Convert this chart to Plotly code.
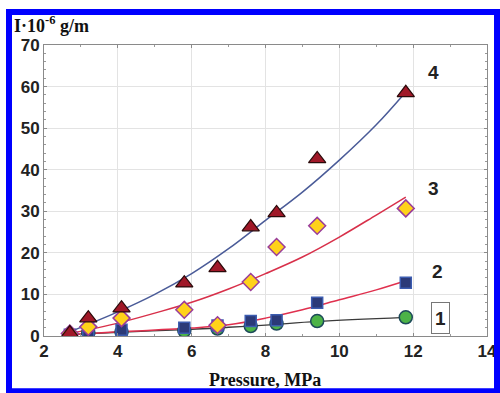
import plotly.graph_objects as go

# Measured points
pressure = [2.7, 3.2, 4.1, 5.8, 6.7, 7.6, 8.3, 9.4, 11.8]
s1 = [0.3, 0.8, 1.0, 1.3, 1.8, 2.4, 3.0, 3.6, 4.5]
s2 = [0.3, 1.0, 1.5, 2.0, 2.5, 3.6, 3.8, 8.0, 12.8]
s3 = [0.6, 2.2, 4.3, 6.3, 2.6, 13.0, 21.4, 26.5, 30.7]
s4 = [0.7, 4.3, 6.7, 12.7, 16.4, 26.2, 29.6, 42.6, 58.5]

# Fitted curves
c1_x = [2.7, 4.0, 6.0, 7.0, 8.0, 9.4, 11.8]
c1_y = [0.3, 0.9, 1.6, 2.1, 2.6, 3.5, 4.5]
c2_x = [2.7, 4.0, 6.0, 7.0, 8.0, 9.0, 10.0, 11.0, 11.8]
c2_y = [0.3, 1.0, 1.9, 2.7, 4.3, 6.3, 8.7, 11.1, 13.3]
c3_x = [2.7, 4.0, 5.0, 6.0, 7.0, 8.0, 9.0, 10.0, 11.0, 11.8]
c3_y = [0.6, 3.1, 5.5, 8.1, 11.3, 15.0, 19.0, 23.8, 29.1, 33.4]
c4_x = [2.7, 4.0, 5.0, 6.0, 7.0, 8.0, 9.0, 10.0, 11.0, 11.8]
c4_y = [1.0, 5.8, 10.0, 15.0, 21.0, 27.8, 34.6, 42.3, 50.8, 58.7]

curve_labels = ["1", "2", "3", "4"]
label_x = [12.75, 12.65, 12.55, 12.55]
label_y = [4.4, 15.6, 35.6, 63.5]

fig = go.Figure()

fig.add_trace(go.Scatter(x=c1_x, y=c1_y, mode="lines", line=dict(color="#3a3a3a", width=1.3, shape="spline")))
fig.add_trace(go.Scatter(x=c2_x, y=c2_y, mode="lines", line=dict(color="#e0304e", width=1.5, shape="spline")))
fig.add_trace(go.Scatter(x=c3_x, y=c3_y, mode="lines", line=dict(color="#d8304a", width=1.5, shape="spline")))
fig.add_trace(go.Scatter(x=c4_x, y=c4_y, mode="lines", line=dict(color="#4a5b98", width=1.5, shape="spline")))

fig.add_trace(go.Scatter(x=pressure, y=s1, mode="markers",
                         marker=dict(symbol="circle", size=13, color="#4cb347",
                                     line=dict(color="#1d4a5a", width=1.5))))
fig.add_trace(go.Scatter(x=pressure, y=s2, mode="markers",
                         marker=dict(symbol="square", size=11, color="#2b3a78",
                                     line=dict(color="#3c5cb0", width=1.5))))
fig.add_trace(go.Scatter(x=pressure, y=s3, mode="markers",
                         marker=dict(symbol="diamond", size=13, color="#ffd21a",
                                     line=dict(color="#9a3c9a", width=1.5))))
fig.add_trace(go.Scatter(x=pressure, y=s4, mode="markers",
                         marker=dict(symbol="triangle-up", size=15, color="#a01828",
                                     line=dict(color="#2a0a0a", width=1.2))))

for t, lx, ly in zip(curve_labels, label_x, label_y):
    boxed = (t == "1")
    fig.add_annotation(x=lx, y=ly, text="<b>%s</b>" % t, showarrow=False,
                       font=dict(family="Arial, Liberation Sans", size=19, color="#222"),
                       bordercolor="#777" if boxed else "rgba(0,0,0,0)",
                       borderwidth=1 if boxed else 0, borderpad=2 if boxed else 0,
                       width=13 if boxed else None, height=26 if boxed else None)

fig.add_annotation(xref="paper", yref="paper", x=-0.072, y=1.069, xanchor="left", yanchor="middle",
                   text="<b>I·10<sup>-6</sup> g/m</b>", showarrow=False,
                   font=dict(family="Liberation Serif, Times New Roman", size=18, color="#111"))
fig.add_annotation(xref="paper", yref="paper", x=0.499, y=-0.151, xanchor="center", yanchor="middle",
                   text="<b>Pressure, MPa</b>", showarrow=False,
                   font=dict(family="Liberation Serif, Times New Roman", size=18, color="#111"))

# blue frame around the figure
fig.add_shape(type="rect", xref="paper", yref="paper",
              x0=-0.079, x1=1.0226, y0=-0.19, y1=1.1134,
              line=dict(color="#0000ff", width=6), fillcolor="rgba(0,0,0,0)", layer="above")

tickfont = dict(family="Arial, Liberation Sans", size=17, color="#222", weight="bold")
fig.update_xaxes(range=[2, 14], dtick=2, tick0=2, showgrid=True, gridcolor="#e3e3e3", gridwidth=1,
                 showline=True, linecolor="#8a8a8a", linewidth=1, mirror="ticks",
                 ticks="inside", ticklen=3, tickcolor="#8a8a8a",
                 minor=dict(dtick=1, ticks="inside", ticklen=2, tickcolor="#999", showgrid=False),
                 tickfont=tickfont, zeroline=False, automargin=False)
fig.update_yaxes(range=[0, 70], dtick=10, showgrid=True, gridcolor="#e3e3e3", gridwidth=1,
                 showline=True, linecolor="#8a8a8a", linewidth=1, mirror="ticks",
                 ticks="inside", ticklen=3, tickcolor="#8a8a8a",
                 minor=dict(dtick=2, ticks="inside", ticklen=2, tickcolor="#999", showgrid=False),
                 tickfont=tickfont, zeroline=False, automargin=False)

fig.update_layout(width=500, height=393, showlegend=False,
                  margin=dict(l=44, r=13, t=45, b=57),
                  paper_bgcolor="white", plot_bgcolor="white")

fig.write_html("out.html", config={"displayModeBar": False},
               post_script="document.body.style.margin='0';document.body.style.overflow='hidden';")
